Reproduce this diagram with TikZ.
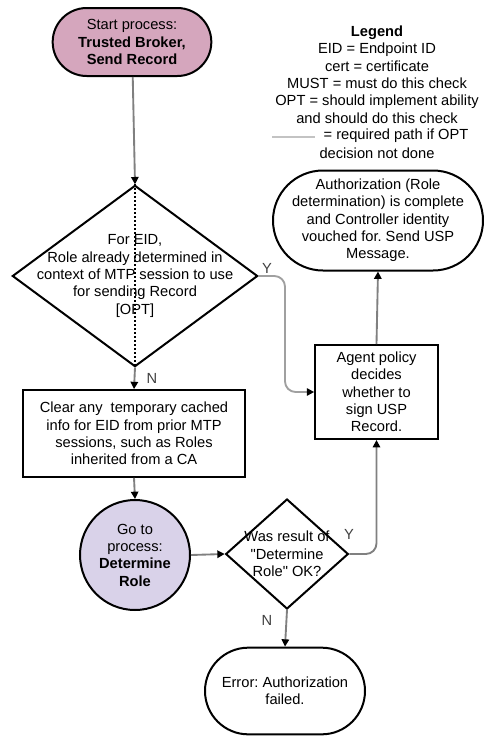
\documentclass[tikz,border=0pt]{standalone}
\usepackage{fontspec}
\setmainfont{Liberation Sans}
\usetikzlibrary{arrows.meta,positioning,shapes.geometric,shapes.misc}
\definecolor{startpink}{RGB}{213,166,189}
\definecolor{procpurple}{RGB}{217,210,233}
\definecolor{flowgray}{RGB}{128,128,128}
\definecolor{optgray}{RGB}{160,160,160}
\definecolor{legendgray}{RGB}{195,195,195}
\frenchspacing

\begin{document}
\begin{tikzpicture}[x=0.75pt,y=-0.75pt,
  every node/.style={font=\fontsize{11}{13}\selectfont,align=center,inner sep=0pt},
  term/.style={rounded rectangle,draw,line width=1.5pt},
  procbox/.style={rectangle,draw,line width=1.5pt},
  decbox/.style={diamond,draw,line width=1.5pt},
  flow/.style={draw=flowgray,line width=1.4pt,-{Triangle[width=5.5pt,length=5.5pt,color=black]}},
  yn/.style={text=black!75}]
\useasboundingbox (0,0) rectangle (484,736);

% shapes
\node[term,fill=startpink,minimum width=119pt,minimum height=51pt] (start) at (132,42) {};
\node at (start) {Start process:\\\textbf{Trusted Broker,}\\\textbf{Send Record}};
\node[decbox,minimum width=184pt,minimum height=136pt] (d1) at (135,276) {};
\node at (d1) {For EID,\\Role already determined in\\context of MTP session to use\\for sending Record\\{}[OPT]};
\node[procbox,minimum width=166.5pt,minimum height=65pt] (clear) at (134,433.5) {};
\node at (clear) {Clear any\ \ temporary cached\\info for EID from prior MTP\\sessions, such as Roles\\inherited from a CA};
\node[circle,draw,line width=1.5pt,fill=procpurple,minimum size=82.5pt] (role) at (135,555) {};
\node at (role) {Go to\\process:\\\textbf{Determine}\\\textbf{Role}};
\node[decbox,minimum width=92pt,minimum height=82.5pt] (d2) at (287,554) {};
\node at (d2) {Was result of\\\textquotedbl Determine\\Role\textquotedbl{} OK?};
\node[term,minimum width=120pt,minimum height=65pt] (err) at (285,691) {};
\node at (err) {Error: Authorization\\failed.};
\node[procbox,minimum width=92pt,minimum height=70.5pt] (agent) at (376.5,392) {};
\node at (agent) {Agent policy\\decides\\whether to\\sign USP\\Record.};
\node[term,minimum width=157.5pt,minimum height=75pt] (auth) at (378,220.5) {};
\node at (auth) {Authorization (Role\\determination) is complete\\and Controller identity\\vouched for. Send USP\\Message.};

% legend
\node (legend) at (377,74.5) {\textbf{Legend}\\EID = Endpoint ID\\cert = certificate\\MUST = must do this check\\OPT = should implement ability\\and should do this check};
\node (lgreq) at (396,136) {= required path if OPT};
\node (lgdone) at (377,153) {decision not done};
\coordinate (lgA) at (272,137);
\coordinate (lgB) at (315,137);
\draw[legendgray,line width=1.1pt] (lgA) -- (lgB);

% connectors
\draw[flow] (start) -- (d1.north);
\draw[dotted,line width=1pt] (d1.north) -- (d1.south);
\draw[flow] (d1.south) -- (clear.north);
\node[yn] (n1) at (152,378) {N};
\draw[flow,draw=optgray,rounded corners=8pt] (d1.east) -- (285,276) |- (agent.west);
\node[yn] (y1) at (267,268) {Y};
\draw[flow] (clear.south) -- (role.north);
\draw[flow] (role.east) -- (d2.west);
\draw[flow,rounded corners=8pt] (d2.east) -| (agent.south);
\node[yn] (y2) at (349,534) {Y};
\draw[flow] (d2.south) -- (err.north);
\node[yn] (n2) at (267,620) {N};
\draw[flow] (agent.north) -- (auth.south);
\end{tikzpicture}
\end{document}
